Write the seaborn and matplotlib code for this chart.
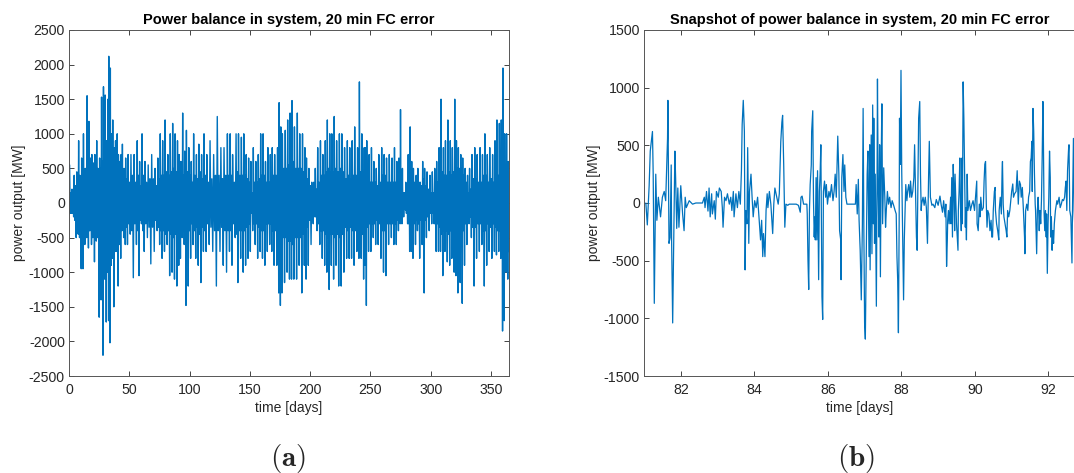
import numpy as np
import pandas as pd
import matplotlib
matplotlib.use("Agg")
import matplotlib.pyplot as plt
import seaborn as sns

# ---------------- data ----------------
# Panel (a): yearly power balance; per ~2 day window: tallest spike up, deepest spike down,
# and the half-width of the dense core band at that window
days_a = [0.5, 2.5, 4.3, 6.5, 8, 9, 10.5, 12, 13.5, 15, 16.5, 17.7, 19, 20, 21.5, 23, 24, 25.4, 27, 28.6,
          30, 31.2, 32.3, 33, 34.3, 35.3, 36.3, 37.5, 38.6, 40, 41, 42, 43.2, 44.3, 45.7, 47, 49, 51.4, 54, 56.6,
          58.6, 60.6, 63, 65.7, 68.6, 71.4, 73.7, 75.7, 77.7, 79.7, 82, 84, 86, 88, 90, 91.4, 92.8, 94.3, 96, 97.4,
          99.4, 101.4, 103.4, 105.7, 107.7, 110, 112, 114.3, 117, 120, 123, 126, 128.6, 131.4, 133.7, 135.7, 138.6, 140.6, 143, 145,
          147, 149, 150.9, 152.9, 155, 157, 159, 161, 163, 165, 167, 168.6, 170.6, 173, 174.3, 175.7, 177, 179.4, 181.4, 183.4,
          185, 187, 189.4, 191.4, 193.7, 195.7, 197, 199, 201.4, 203, 204.3, 206.3, 208.6, 210.6, 212.6, 214.3, 216.3, 218, 220, 222,
          224.3, 226.3, 228.6, 230.9, 232.9, 234.9, 237, 239.4, 240.9, 242.9, 244.9, 245.7, 247, 249, 250.9, 252.9, 254.9, 257, 259.4, 261.4,
          263.4, 265.7, 268, 270, 272, 273.7, 275, 276.6, 278, 279.4, 281.4, 283, 284.3, 285.7, 288, 289.4, 291.4, 293.4, 295, 297,
          299.4, 301.4, 303.4, 305, 307, 308.6, 310.6, 312.3, 314.3, 316.3, 318, 320, 321.4, 323, 325, 326.6, 328.6, 330.6, 332.3, 334.3,
          336.6, 338.6, 341, 343, 345, 347, 349, 351.4, 353.4, 355, 357, 358.6, 360, 361.4, 363, 364.3, 365]
peak_hi_a = [550, 200, 400, 450, 900, 400, 650, 1000, 500, 1550, 1180, 650, 700, 580, 700, 900, 500, 650, 1530, 1680,
             1560, 900, 1500, 2120, 1950, 1000, 1200, 800, 900, 1000, 700, 600, 700, 850, 500, 650, 700, 700, 700, 900,
             600, 1000, 600, 550, 700, 500, 650, 1000, 900, 1200, 700, 1000, 1150, 1000, 900, 700, 600, 1300, 750, 1050,
             800, 600, 1000, 700, 850, 700, 1000, 700, 900, 700, 1250, 800, 800, 1000, 1000, 700, 1000, 1000, 950, 1000,
             700, 650, 600, 800, 600, 700, 1000, 1000, 600, 800, 700, 800, 700, 800, 1450, 1100, 1000, 1050, 1200, 1300,
             1480, 1100, 1300, 1000, 1000, 800, 650, 500, 300, 300, 500, 800, 900, 700, 900, 1200, 1000, 1000, 1250, 900,
             1000, 1000, 800, 900, 800, 900, 1100, 800, 1750, 1000, 800, 800, 900, 700, 800, 600, 500, 700, 800, 700,
             650, 700, 650, 800, 600, 650, 1350, 500, 150, 300, 700, 1100, 600, 500, 400, 500, 300, 600, 500, 450,
             400, 450, 500, 600, 800, 1500, 800, 900, 1200, 900, 800, 1500, 900, 800, 700, 650, 500, 400, 500, 700,
             800, 700, 800, 700, 1000, 700, 800, 700, 900, 1200, 1150, 1200, 1950, 1000, 1000, 600, 150]
peak_lo_a = [-150, -200, -500, -450, -500, -950, -950, -600, -500, -650, -400, -600, -500, -850, -550, -500, -1650, -1400, -2200, -1100,
             -1720, -1000, -1700, -2020, -900, -800, -1500, -700, -700, -1200, -600, -800, -400, -500, -600, -600, -450, -1080, -600, -1050,
             -300, -700, -500, -880, -700, -400, -600, -800, -700, -600, -1050, -1000, -1100, -1200, -900, -800, -500, -600, -1480, -1200,
             -800, -600, -800, -900, -1150, -700, -700, -600, -700, -1200, -700, -900, -1000, -700, -900, -500, -1150, -800, -1000, -900,
             -800, -700, -400, -600, -800, -700, -800, -900, -700, -600, -700, -900, -900, -1300, -1480, -1300, -1150, -1000, -1100, -1100,
             -1100, -1100, -900, -1300, -900, -1100, -900, -600, -300, -200, -400, -600, -800, -900, -1000, -1250, -900, -1100, -900, -1200,
             -1200, -1000, -800, -800, -800, -900, -700, -800, -800, -1100, -900, -1480, -700, -700, -500, -600, -600, -800, -1000, -1050,
             -600, -500, -600, -600, -400, -300, -300, -200, -100, -300, -700, -700, -800, -600, -400, -800, -600, -1300, -500, -400,
             -300, -300, -700, -700, -700, -1050, -700, -850, -900, -800, -1000, -1050, -1300, -1150, -1450, -900, -600, -300, -500, -1200,
             -800, -700, -600, -1200, -900, -700, -800, -700, -750, -700, -800, -1850, -1700, -1000, -1100, -700, -50]
core_a = [150, 150, 250, 300, 350, 300, 350, 400, 300, 450, 400, 300, 350, 400, 300, 400, 450, 500, 600, 550,
          650, 500, 600, 700, 550, 450, 550, 400, 450, 500, 350, 400, 300, 350, 300, 350, 300, 400, 300, 400,
          250, 400, 300, 350, 350, 250, 350, 400, 400, 450, 400, 450, 500, 450, 400, 350, 300, 400, 450, 450,
          400, 300, 400, 350, 450, 350, 400, 300, 350, 400, 400, 350, 400, 400, 400, 300, 450, 400, 400, 400,
          350, 300, 150, 300, 300, 350, 400, 400, 300, 300, 300, 400, 400, 500, 600, 550, 500, 500, 550, 550,
          600, 500, 500, 500, 450, 400, 350, 250, 120, 100, 200, 300, 400, 400, 450, 500, 450, 450, 500, 450,
          500, 450, 350, 400, 350, 400, 400, 350, 450, 450, 400, 450, 350, 300, 300, 300, 250, 300, 400, 400,
          300, 300, 300, 300, 250, 200, 200, 150, 50, 150, 300, 350, 350, 300, 250, 300, 250, 350, 250, 200,
          150, 150, 300, 300, 350, 450, 400, 400, 450, 400, 450, 500, 500, 500, 500, 400, 300, 150, 200, 350,
          350, 300, 300, 400, 400, 300, 350, 300, 350, 400, 400, 550, 600, 450, 450, 300, 50]

# Panel (b): snapshot, days 81-92.75
days_b = [81.05, 81.09, 81.14, 81.17, 81.23, 81.25, 81.28, 81.32, 81.35, 81.39, 81.45, 81.50, 81.55, 81.59, 81.64, 81.65,
          81.68, 81.71, 81.74, 81.75, 81.78, 81.81, 81.84, 81.86, 81.89, 81.92, 81.95, 82.00, 82.05, 82.09, 82.12, 82.15,
          82.23, 82.32, 82.41, 82.50, 82.59, 82.64, 82.66, 82.70, 82.74, 82.77, 82.80, 82.84, 82.86, 82.91, 82.94, 82.97,
          83.02, 83.05, 83.10, 83.13, 83.15, 83.19, 83.23, 83.27, 83.32, 83.36, 83.39, 83.43, 83.45, 83.50, 83.54, 83.58,
          83.62, 83.65, 83.67, 83.70, 83.73, 83.75, 83.77, 83.80, 83.82, 83.85, 83.87, 83.91, 83.94, 83.97, 84.01, 84.05,
          84.09, 84.14, 84.17, 84.20, 84.23, 84.25, 84.29, 84.32, 84.35, 84.37, 84.41, 84.45, 84.50, 84.53, 84.56, 84.61,
          84.65, 84.68, 84.72, 84.75, 84.77, 84.80, 84.83, 84.86, 84.91, 84.95, 85.05, 85.14, 85.20, 85.25, 85.27, 85.30,
          85.34, 85.43, 85.44, 85.46, 85.48, 85.50, 85.52, 85.55, 85.56, 85.59, 85.61, 85.63, 85.65, 85.66, 85.68, 85.70,
          85.72, 85.74, 85.75, 85.77, 85.79, 85.81, 85.84, 85.86, 85.88, 85.91, 85.94, 85.96, 85.99, 86.03, 86.06, 86.10,
          86.14, 86.17, 86.20, 86.23, 86.25, 86.27, 86.30, 86.32, 86.35, 86.36, 86.38, 86.41, 86.44, 86.46, 86.49, 86.52,
          86.64, 86.75, 86.77, 86.80, 86.83, 86.85, 86.88, 86.91, 86.94, 86.96, 86.98, 87.00, 87.02, 87.05, 87.07, 87.09,
          87.12, 87.14, 87.15, 87.18, 87.20, 87.22, 87.24, 87.25, 87.27, 87.29, 87.32, 87.34, 87.35, 87.37, 87.39, 87.41,
          87.43, 87.45, 87.47, 87.49, 87.52, 87.55, 87.57, 87.59, 87.62, 87.65, 87.68, 87.72, 87.75, 87.79, 87.83, 87.86,
          87.88, 87.90, 87.92, 87.94, 87.95, 87.97, 87.99, 88.01, 88.03, 88.05, 88.06, 88.08, 88.10, 88.12, 88.15, 88.17,
          88.20, 88.23, 88.25, 88.28, 88.31, 88.34, 88.36, 88.39, 88.41, 88.43, 88.45, 88.47, 88.50, 88.52, 88.54, 88.55,
          88.59, 88.62, 88.65, 88.68, 88.71, 88.74, 88.76, 88.79, 88.83, 88.86, 88.91, 88.95, 89.00, 89.05, 89.08, 89.12,
          89.15, 89.19, 89.21, 89.23, 89.25, 89.26, 89.28, 89.30, 89.32, 89.34, 89.35, 89.37, 89.39, 89.41, 89.43, 89.45,
          89.46, 89.48, 89.50, 89.52, 89.54, 89.55, 89.57, 89.59, 89.61, 89.63, 89.65, 89.66, 89.68, 89.70, 89.72, 89.74,
          89.75, 89.77, 89.79, 89.81, 89.85, 89.88, 89.92, 89.95, 89.99, 90.03, 90.05, 90.06, 90.09, 90.12, 90.14, 90.16,
          90.19, 90.23, 90.25, 90.27, 90.29, 90.31, 90.33, 90.35, 90.38, 90.41, 90.44, 90.46, 90.48, 90.50, 90.53, 90.55,
          90.56, 90.59, 90.62, 90.65, 90.66, 90.69, 90.72, 90.74, 90.75, 90.77, 90.79, 90.82, 90.85, 90.87, 90.89, 90.92,
          90.95, 91.00, 91.03, 91.05, 91.08, 91.12, 91.15, 91.18, 91.21, 91.24, 91.26, 91.29, 91.32, 91.35, 91.36, 91.38,
          91.41, 91.44, 91.46, 91.49, 91.51, 91.53, 91.55, 91.56, 91.58, 91.60, 91.62, 91.64, 91.65, 91.68, 91.70, 91.72,
          91.74, 91.75, 91.77, 91.79, 91.81, 91.83, 91.85, 91.86, 91.88, 91.90, 91.92, 91.94, 91.95, 91.97, 91.99, 92.01,
          92.03, 92.05, 92.06, 92.08, 92.10, 92.12, 92.14, 92.16, 92.19, 92.23, 92.25, 92.29, 92.32, 92.35, 92.38, 92.41,
          92.44, 92.46, 92.48, 92.50, 92.52, 92.55, 92.56, 92.58, 92.61, 92.64, 92.65, 92.68, 92.70, 92.73]
mw_b = [0, -190, 150, 450, 620, 250, -870, 250, -150, 50, -120, 50, 100, 20, 560, 890,
        -350, -300, 330, -300, -1040, -320, 450, 220, -220, 130, -210, 150, -95, -240, 50, -40,
        20, -10, 0, 0, 0, 50, -40, 100, -70, 130, -120, 80, -95, 20, -140, 100,
        50, 130, 100, -40, -210, 50, 20, 80, -10, 50, -65, 100, -120, 80, -40, 100,
        -10, 280, 680, 890, 620, -580, -65, -180, 480, -350, 100, 250, 50, -120, 20, -40,
        50, -180, -320, -150, -465, -265, -465, -65, 80, -40, 100, -10, -265, -10, 130, 50,
        -10, 80, 530, 700, 760, 330, -210, -10, -20, -10, -10, -10, -20, -80, 50, 60,
        -10, -10, -95, -495, -750, -65, 160, 330, 620, 800, 20, -295, -120, -320, 220, -320,
        280, -350, -665, 100, 250, 505, -810, -1010, 100, 190, 50, 160, -10, 100, 50, 160,
        20, 100, 250, 50, 300, 580, 250, -240, -320, -665, 220, 420, 100, 330, 50, -10,
        -10, -10, 160, -95, 205, -150, -410, -840, -180, 820, -240, -1040, -1180, -295, 250, 450,
        -465, 505, -580, 590, -440, 850, -180, 735, -350, 250, -895, 280, 1075, 100, -295, 505,
        -640, 335, 860, -180, 305, 50, -210, -65, 100, -10, 50, -40, 20, -20, -65, -95,
        -465, -665, -1125, -180, 735, 335, 1150, 280, -180, -640, -840, -320, -65, 160, 20, 100,
        160, 50, 190, 50, 100, 220, 505, 50, -295, -410, 160, 735, 880, 250, -65, -10,
        50, -20, 50, -40, -350, 220, 535, 50, -20, -10, -40, 30, -20, 60, -10, -80,
        20, -120, -10, -550, -320, -150, -65, -180, -65, 50, -180, 220, -295, 335, 100, -240,
        250, 50, -180, -295, -410, -65, 100, 390, -40, -240, 390, -180, 1050, 735, 250, -210,
        -40, -320, 250, -65, 20, -65, -10, 20, -65, 100, 190, -180, -240, -10, -120, 50,
        -65, -40, 190, 335, 360, -10, -210, -65, -95, -240, -150, -295, -295, -65, 100, 135,
        -65, -180, -240, -320, -65, 50, -95, 280, 360, -10, -120, -180, -240, -295, -65, -120,
        -65, 100, 165, 50, 80, 100, 280, -10, 190, 160, 50, 135, -65, -295, -440, -65,
        -10, -65, 50, 100, 360, 390, 535, 100, 820, 620, 250, -10, -65, -440, -65, 50,
        -120, -240, -65, -180, 20, 390, 880, 680, -65, -240, -65, -295, -95, -610, -180, 50,
        450, 220, -295, -120, -410, -240, -350, -180, -65, 20, -10, 50, -40, -10, 30, 20,
        50, 135, 190, -65, 280, 480, 505, -65, -120, -520, -180, 560, -65, -320]

xticks_a = [0, 50, 100, 150, 200, 250, 300, 350]
yticks_a = [-2500, -2000, -1500, -1000, -500, 0, 500, 1000, 1500, 2000, 2500]
xticks_b = [82, 84, 86, 88, 90, 92]
yticks_b = [-1500, -1000, -500, 0, 500, 1000, 1500]

# ---------------- build plotting frames ----------------
# each window becomes: spike up -> core bottom -> core top -> spike down
d = np.asarray(days_a, dtype=float)
gap = np.append(np.diff(d), 0.0)
hi = np.asarray(peak_hi_a, dtype=float)
lo = np.asarray(peak_lo_a, dtype=float)
core = np.asarray(core_a, dtype=float)
xa = np.column_stack([d, d + 0.25 * gap, d + 0.5 * gap, d + 0.75 * gap]).ravel()
ya = np.column_stack([hi, -core, core, lo]).ravel()
df_a = pd.DataFrame({"day": xa, "mw": ya})
df_b = pd.DataFrame({"day": days_b, "mw": mw_b})

# ---------------- style ----------------
sns.set_theme(style="white")
plt.rcParams["font.family"] = ["Liberation Sans", "DejaVu Sans"]
plt.rcParams["mathtext.fontset"] = "cm"
plt.rcParams["axes.unicode_minus"] = False

LINE = "#0072BD"
AX = "#262626"
FS = 10.2

fig = plt.figure(figsize=(10.74, 4.73), dpi=100)
ax1 = fig.add_axes([69 / 1074, 97 / 473, 440 / 1074, 346 / 473])
ax2 = fig.add_axes([644 / 1074, 97 / 473, 432 / 1074, 346 / 473])

sns.lineplot(data=df_a, x="day", y="mw", sort=False, estimator=None,
             color=LINE, linewidth=1.0, ax=ax1)
sns.lineplot(data=df_b, x="day", y="mw", sort=False, estimator=None,
             color=LINE, linewidth=0.9, ax=ax2)

ax1.set_xlim(0, 365)
ax1.set_ylim(-2500, 2500)
ax1.set_xticks(xticks_a)
ax1.set_yticks(yticks_a)
ax2.set_xlim(81, 92.75)
ax2.set_ylim(-1500, 1500)
ax2.set_xticks(xticks_b)
ax2.set_yticks(yticks_b)

titles = ["Power balance in system, 20 min FC error",
          "Snapshot of power balance in system, 20 min FC error"]
for ax, t in zip((ax1, ax2), titles):
    ax.set_title(t, fontsize=10.5, fontweight="bold", color="black", pad=4)
    ax.set_xlabel("time [days]", fontsize=10, color=AX, labelpad=3)
    ax.set_ylabel("power output [MW]", fontsize=10, color=AX, labelpad=2)
    ax.tick_params(direction="in", length=3.5, width=0.6, colors=AX,
                   labelsize=FS, top=True, right=True, bottom=True, left=True, pad=3)
    ax.tick_params(axis="x", pad=5)
    for s in ax.spines.values():
        s.set_color("#555555")
        s.set_linewidth(0.7)
    ax.grid(False)
ax2.spines["right"].set_visible(False)
ax2.tick_params(right=False)

fig.text(288 / 1074, 1 - 458 / 473, r"$\mathbf{(a)}$", ha="center", va="center", fontsize=21)
fig.text(856 / 1074, 1 - 458 / 473, r"$\mathbf{(b)}$", ha="center", va="center", fontsize=21)

fig.savefig("out.png", dpi=100, facecolor="white")
